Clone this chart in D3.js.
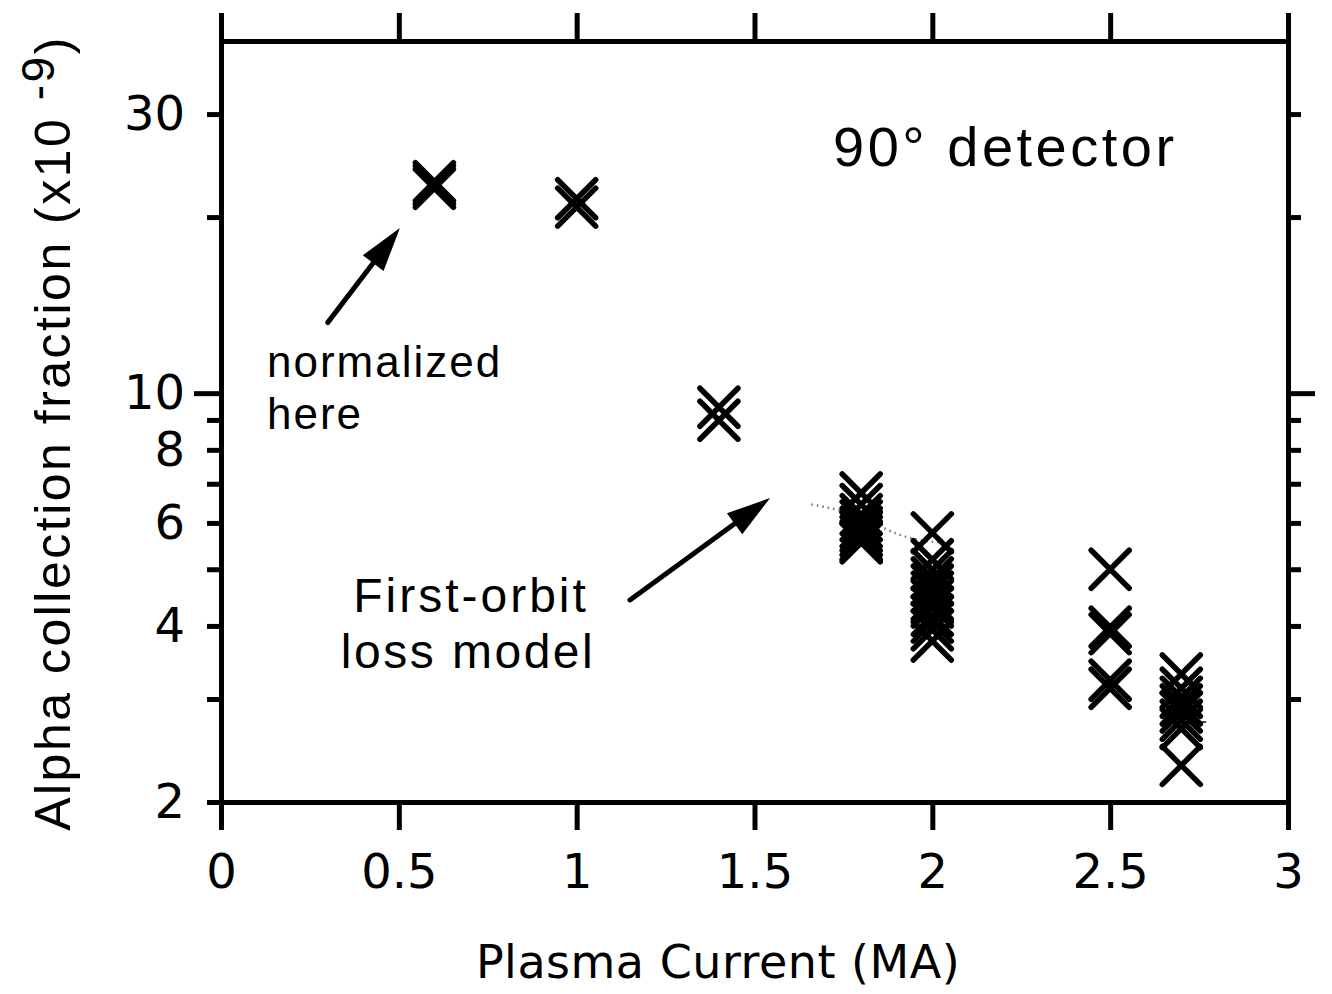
<!DOCTYPE html>
<html>
<head>
<meta charset="utf-8">
<script src="https://cdn.jsdelivr.net/npm/d3@7"></script>
<style>
  body { margin: 0; background: #fff; }
  svg { display: block; }
</style>
</head>
<body>
<div id="chart"></div>
<script>
// plasma current (MA) for each measured shot
var currents = [0.6, 0.6, 0.6,
  1.0, 1.0,
  1.4, 1.4,
  1.8, 1.8, 1.8, 1.8, 1.8, 1.8, 1.8, 1.8, 1.8,
  2.0, 2.0, 2.0, 2.0, 2.0, 2.0, 2.0, 2.0, 2.0, 2.0, 2.0, 2.0,
  2.5, 2.5, 2.5, 2.5, 2.5,
  2.7, 2.7, 2.7, 2.7, 2.7, 2.7, 2.7, 2.7];
// alpha collection fraction (x10^-9)
var fractions = [22.4, 22.7, 23.0,
  21.5, 20.8,
  9.46, 8.99,
  6.75, 6.45, 6.2, 6.05, 5.9, 5.8, 5.7, 5.6, 5.55,
  5.77, 5.19, 4.99, 4.83, 4.70, 4.57, 4.43, 4.31, 4.17, 4.06, 3.94, 3.77,
  5.0, 3.98, 3.88, 3.23, 3.13,
  3.31, 3.13, 3.02, 2.93, 2.85, 2.76, 2.67, 2.31];

// faint stipple of the first-orbit loss model
var modelX = [1.66, 1.74, 1.82, 1.9, 1.97, 2.05];
var modelY = [6.45, 6.3, 6.05, 5.75, 5.6, 5.55];
var modelTailX = [2.73, 2.77];
var modelTailY = [2.74, 2.74];

var xTicks = [0, 0.5, 1, 1.5, 2, 2.5, 3];
var yTicks = [2, 3, 4, 5, 6, 7, 8, 9, 10, 20, 30];
var yLabels = [2, 4, 6, 8, 10, 30];

var svg = d3.select("#chart").append("svg")
  .attr("width", 1332)
  .attr("height", 994);

var x = d3.scaleLinear().domain([0, 3]).range([221, 1288]);
var y = d3.scaleLog().domain([2, 40]).range([802, 41]);

var tickFont = "'DejaVu Sans', sans-serif";
var textFont = "'Liberation Sans', Arial, sans-serif";

// bottom axis
var axBottom = svg.append("g")
  .attr("transform", "translate(0," + 802 + ")")
  .call(d3.axisBottom(x).tickValues(xTicks).tickSize(28).tickSizeOuter(0).tickPadding(24)
    .tickFormat(function (d) { return String(d); }));

// top axis
var axTop = svg.append("g")
  .attr("transform", "translate(0," + 41 + ")")
  .call(d3.axisTop(x).tickValues(xTicks).tickSize(28).tickSizeOuter(0).tickFormat(""));

// left axis
var axLeft = svg.append("g")
  .attr("transform", "translate(" + 221 + ",0)")
  .call(d3.axisLeft(y).tickValues(yTicks).tickSize(14).tickSizeOuter(0).tickPadding(20)
    .tickFormat(function (d) { return yLabels.indexOf(d) >= 0 ? String(d) : ""; }));

// right axis
var axRight = svg.append("g")
  .attr("transform", "translate(" + 1288 + ",0)")
  .call(d3.axisRight(y).tickValues(yTicks.filter(function (d) { return d > 2; }))
    .tickSize(13).tickSizeOuter(0).tickFormat(""));

[axBottom, axTop, axLeft, axRight].forEach(function (g) {
  g.select(".domain").attr("stroke", "#000").attr("stroke-width", 5).attr("stroke-linecap", "square");
  g.selectAll(".tick line").attr("stroke", "#000").attr("stroke-width", 5);
});

// longer ticks at 10
axLeft.selectAll(".tick line").attr("x2", function (d) { return d === 10 ? -27 : -14; });
axRight.selectAll(".tick line").attr("x2", function (d) { return d === 10 ? 27 : 13; });

axBottom.selectAll(".tick text")
  .attr("font-family", tickFont).attr("font-size", 48).attr("fill", "#000");
axLeft.selectAll(".tick text")
  .attr("font-family", tickFont).attr("font-size", 48).attr("fill", "#000")
  .attr("x", -36);

// model stipple
var modelLine = d3.line()
  .x(function (d) { return x(d[0]); })
  .y(function (d) { return y(d[1]); })
  .curve(d3.curveMonotoneX);

svg.append("path")
  .attr("d", modelLine(d3.zip(modelX, modelY)))
  .attr("fill", "none")
  .attr("stroke", "#555")
  .attr("stroke-width", 2.5)
  .attr("stroke-dasharray", "1.5 4")
  .attr("opacity", 0.8);

svg.append("path")
  .attr("d", modelLine(d3.zip(modelTailX, modelTailY)))
  .attr("fill", "none")
  .attr("stroke", "#444")
  .attr("stroke-width", 2);

// data crosses
var s = 19;
svg.append("g").selectAll("path")
  .data(d3.zip(currents, fractions))
  .enter()
  .append("path")
  .attr("transform", function (d) { return "translate(" + x(d[0]) + "," + y(d[1]) + ")"; })
  .attr("d", "M" + (-s) + "," + (-s) + "L" + s + "," + s + "M" + (-s) + "," + s + "L" + s + "," + (-s))
  .attr("stroke", "#000")
  .attr("stroke-width", 5.5)
  .attr("stroke-linecap", "round")
  .attr("fill", "none");

// arrows (tail -> tip, in data units)
var arrows = [
  { from: [0.30, 13.2], to: [0.503, 19.15] },
  { from: [1.15, 4.43], to: [1.544, 6.62] }
];

arrows.forEach(function (a) {
  var x1 = x(a.from[0]), y1 = y(a.from[1]);
  var x2 = x(a.to[0]), y2 = y(a.to[1]);
  var ang = Math.atan2(y2 - y1, x2 - x1);
  var len = 44, hw = 13;
  var bx = x2 - len * Math.cos(ang), by = y2 - len * Math.sin(ang);
  svg.append("line")
    .attr("x1", x1).attr("y1", y1)
    .attr("x2", bx).attr("y2", by)
    .attr("stroke", "#000")
    .attr("stroke-width", 5)
    .attr("stroke-linecap", "round");
  svg.append("polygon")
    .attr("points", [
      [x2, y2],
      [bx + hw * Math.sin(ang), by - hw * Math.cos(ang)],
      [bx - hw * Math.sin(ang), by + hw * Math.cos(ang)]
    ].map(function (p) { return p.join(","); }).join(" "))
    .attr("fill", "#000");
});

// annotations
svg.append("text")
  .attr("x", 833).attr("y", 166)
  .attr("font-family", textFont).attr("font-size", 56)
  .attr("letter-spacing", 3.5)
  .text("90° detector");

svg.append("text")
  .attr("x", 267).attr("y", 377)
  .attr("font-family", textFont).attr("font-size", 44)
  .attr("letter-spacing", 2)
  .text("normalized");
svg.append("text")
  .attr("x", 267).attr("y", 429)
  .attr("font-family", textFont).attr("font-size", 44)
  .attr("letter-spacing", 2)
  .text("here");

svg.append("text")
  .attr("x", 471).attr("y", 612)
  .attr("text-anchor", "middle")
  .attr("font-family", textFont).attr("font-size", 48)
  .attr("letter-spacing", 3)
  .text("First-orbit");
svg.append("text")
  .attr("x", 468).attr("y", 668)
  .attr("text-anchor", "middle")
  .attr("font-family", textFont).attr("font-size", 48)
  .attr("letter-spacing", 2.5)
  .text("loss model");

// axis titles
svg.append("text")
  .attr("x", 718).attr("y", 978)
  .attr("text-anchor", "middle")
  .attr("font-family", tickFont).attr("font-size", 46)
  .attr("letter-spacing", 0.5)
  .text("Plasma Current (MA)");

var yTitle = svg.append("text")
  .attr("transform", "translate(70,433) rotate(-90)")
  .attr("text-anchor", "middle")
  .attr("font-family", textFont).attr("font-size", 50)
  .attr("letter-spacing", 2.5);
yTitle.append("tspan").text("Alpha collection fraction (x10 ");
yTitle.append("tspan").attr("dy", -16).attr("font-size", 46).text("-9");
yTitle.append("tspan").attr("dy", 16).text(")");
</script>
</body>
</html>
